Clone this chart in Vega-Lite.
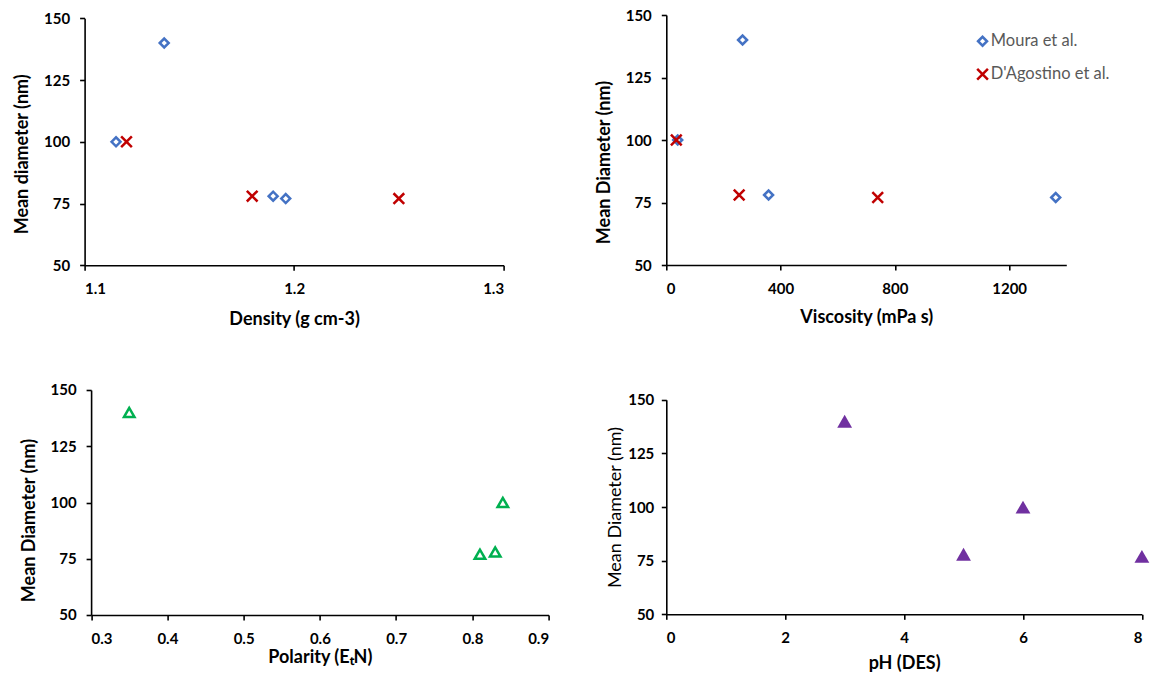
{
  "$schema": "https://vega.github.io/schema/vega-lite/v6.json",
  "padding": {"left": 12.6, "top": 8, "right": 0, "bottom": 0},
  "background": "white",
  "datasets": {
    "density": [
      {"study": "Moura et al.", "density": 1.115, "diameter": 100},
      {"study": "Moura et al.", "density": 1.138, "diameter": 140},
      {"study": "Moura et al.", "density": 1.19, "diameter": 78},
      {"study": "Moura et al.", "density": 1.196, "diameter": 77},
      {"study": "D'Agostino et al.", "density": 1.12, "diameter": 100},
      {"study": "D'Agostino et al.", "density": 1.18, "diameter": 78},
      {"study": "D'Agostino et al.", "density": 1.25, "diameter": 77}
    ],
    "viscosity": [
      {"study": "Moura et al.", "viscosity": 40, "diameter": 100},
      {"study": "Moura et al.", "viscosity": 267, "diameter": 140},
      {"study": "Moura et al.", "viscosity": 358, "diameter": 78},
      {"study": "Moura et al.", "viscosity": 1363, "diameter": 77},
      {"study": "D'Agostino et al.", "viscosity": 35, "diameter": 100},
      {"study": "D'Agostino et al.", "viscosity": 255, "diameter": 78},
      {"study": "D'Agostino et al.", "viscosity": 740, "diameter": 77}
    ],
    "polarity": [
      {"polarity": 0.35, "diameter": 140},
      {"polarity": 0.84, "diameter": 100},
      {"polarity": 0.81, "diameter": 77},
      {"polarity": 0.83, "diameter": 78}
    ],
    "ph": [
      {"ph": 3, "diameter": 140},
      {"ph": 5, "diameter": 78},
      {"ph": 6, "diameter": 100},
      {"ph": 8, "diameter": 77}
    ]
  },
  "columns": 2,
  "align": "none",
  "bounds": "flush",
  "spacing": {"row": 124, "column": 117.7},
  "resolve": {"scale": {"color": "independent", "shape": "independent", "size": "independent"}, "legend": {"color": "independent", "shape": "independent", "size": "independent"}},
  "concat": [
    {
      "width": 450.3,
      "height": 250.3,
      "data": {"name": "density"},
      "mark": {"type": "point", "filled": false, "strokeWidth": 2.5, "opacity": 1},
      "encoding": {
        "x": {"field": "density", "type": "quantitative", "scale": {"domain": [1.1, 1.3], "range": [0, 419], "nice": false, "zero": false}, "axis": {"values": [1.1, 1.2, 1.3], "format": ".1f", "title": "Density (g cm-3)", "titlePadding": 13.4}},
        "y": {"field": "diameter", "type": "quantitative", "scale": {"domain": [50, 150], "range": [250.3, 3.3], "nice": false, "zero": false}, "axis": {"values": [50, 75, 100, 125, 150], "title": "Mean diameter (nm)", "titleY": 138.8, "titlePadding": 12}},
        "color": {"field": "study", "type": "nominal", "scale": {"domain": ["Moura et al.", "D'Agostino et al."], "range": ["#4472C4", "#C00000"]}, "legend": null},
        "shape": {"field": "study", "type": "nominal", "scale": {"domain": ["Moura et al.", "D'Agostino et al."], "range": ["diamond", "M-1,-1L1,1M1,-1L-1,1"]}, "legend": null},
        "size": {"field": "study", "type": "nominal", "scale": {"domain": ["Moura et al.", "D'Agostino et al."], "range": [80, 115]}, "legend": null}
      }
    },
    {
      "width": 400,
      "height": 250,
      "data": {"name": "viscosity"},
      "mark": {"type": "point", "filled": false, "strokeWidth": 2.5, "opacity": 1},
      "encoding": {
        "x": {"field": "viscosity", "type": "quantitative", "scale": {"domain": [0, 1400], "nice": false}, "axis": {"values": [0, 400, 800, 1200], "format": "d", "title": "Viscosity (mPa s)", "titlePadding": 11.8}},
        "y": {"field": "diameter", "type": "quantitative", "scale": {"domain": [50, 150], "nice": false, "zero": false}, "axis": {"values": [50, 75, 100, 125, 150], "title": "Mean Diameter (nm)", "titleY": 147, "titlePadding": 12}},
        "color": {"field": "study", "type": "nominal", "scale": {"domain": ["Moura et al.", "D'Agostino et al."], "range": ["#4472C4", "#C00000"]}, "legend": {"orient": "none", "legendX": 308, "legendY": 18, "title": null, "labelFont": "Lato", "labelFontSize": 16.5, "labelColor": "#595959", "labelFontWeight": "normal", "symbolStrokeWidth": 2.5, "symbolSize": 95, "rowPadding": 12, "labelOffset": 0}},
        "shape": {"field": "study", "type": "nominal", "scale": {"domain": ["Moura et al.", "D'Agostino et al."], "range": ["diamond", "M-1,-1L1,1M1,-1L-1,1"]}, "legend": {"orient": "none", "legendX": 308, "legendY": 18, "title": null, "labelFont": "Lato", "labelFontSize": 16.5, "labelColor": "#595959", "labelFontWeight": "normal", "symbolStrokeWidth": 2.5, "symbolSize": 95, "rowPadding": 12, "labelOffset": 0}},
        "size": {"field": "study", "type": "nominal", "scale": {"domain": ["Moura et al.", "D'Agostino et al."], "range": [80, 115]}, "legend": null}
      }
    },
    {
      "width": 464,
      "height": 225,
      "data": {"name": "polarity"},
      "mark": {"type": "point", "shape": "triangle-up", "filled": false, "strokeWidth": 2.5, "size": 110, "color": "#00B050", "opacity": 1},
      "encoding": {
        "x": {"field": "polarity", "type": "quantitative", "scale": {"domain": [0.3, 0.9], "range": [6.5, 464], "nice": false, "zero": false}, "axis": {"values": [0.3, 0.4, 0.5, 0.6, 0.7, 0.8, 0.9], "format": ".1f", "title": "Polarity (EₜN)", "titlePadding": 2.4}},
        "y": {"field": "diameter", "type": "quantitative", "scale": {"domain": [50, 150], "nice": false, "zero": false}, "axis": {"values": [50, 75, 100, 125, 150], "title": "Mean Diameter (nm)", "titleY": 130, "offset": -6.5, "titlePadding": 12}}
      }
    },
    {
      "width": 475.6,
      "height": 224.3,
      "data": {"name": "ph"},
      "mark": {"type": "point", "shape": "triangle-up", "filled": true, "size": 220, "color": "#7030A0", "opacity": 1},
      "encoding": {
        "x": {"field": "ph", "type": "quantitative", "scale": {"domain": [0, 8], "nice": false}, "axis": {"values": [0, 2, 4, 6, 8], "title": "pH (DES)", "titlePadding": 8.5}},
        "y": {"field": "diameter", "type": "quantitative", "scale": {"domain": [50, 150], "range": [224.3, 9.8], "nice": false, "zero": false}, "axis": {"values": [50, 75, 100, 125, 150], "title": "Mean Diameter (nm)", "titleFontWeight": "normal", "labelPadding": 7.5, "titlePadding": 3}}
      }
    }
  ],
  "config": {
    "view": {"stroke": null},
    "axis": {
      "grid": false,
      "domainColor": "#000000",
      "domainWidth": 1.6,
      "tickColor": "#000000",
      "tickWidth": 1.6,
      "tickSize": 5,
      "labelFont": "Lato",
      "labelFontWeight": "bold",
      "labelFontSize": 15,
      "labelColor": "#000000",
      "titleFont": "Lato",
      "titleFontWeight": "bold",
      "titleFontSize": 18,
      "titleColor": "#000000"
    },
    "axisX": {"labelPadding": 11.5},
    "axisY": {"labelPadding": 10}
  }
}
